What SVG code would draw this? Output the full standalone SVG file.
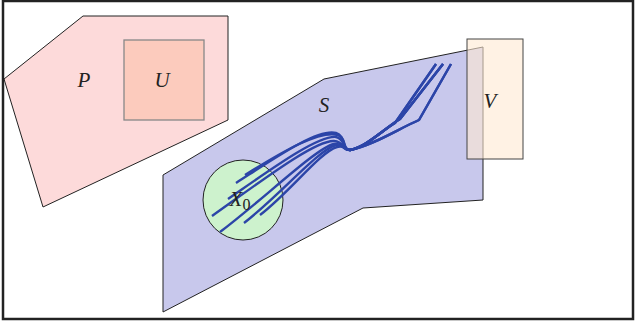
<svg xmlns="http://www.w3.org/2000/svg" width="636" height="322" viewBox="0 0 636 322">
<style>
.lbl{font-family:"Liberation Serif","DejaVu Serif",serif;font-style:italic;font-size:21px;fill:#222;text-anchor:middle}
.sub{font-family:"Liberation Serif","DejaVu Serif",serif;font-style:normal;font-size:16px;fill:#222}
.tr{fill:none;stroke:#2c45a8;stroke-width:2.4;stroke-linejoin:round;stroke-linecap:butt}
</style>
<rect x="0" y="0" width="636" height="322" fill="#fff"/>
<g id="P">
<polygon points="4,79 83,16 228,16 228,120 43,207" fill="#fddada" stroke="#222" stroke-width="1"/>
<text class="lbl" x="84" y="87">P</text>
</g>
<g id="U">
<rect x="124" y="40" width="80" height="80" fill="#fccbbd" stroke="#888" stroke-width="1.3"/>
<text class="lbl" x="162" y="87">U</text>
</g>
<g id="S">
<polygon points="163,175 324,79 483,47 483,200 363,208 163,312" fill="#c8c8ec" stroke="#222" stroke-width="1"/>
<text class="lbl" x="324" y="112">S</text>
</g>
<g id="X0">
<circle cx="243" cy="200" r="40" fill="#cdf2cd" stroke="#222" stroke-width="1"/>
</g>
<g id="connectors">
<path class="tr" d="M236,183 C275,158 318,128 336,133 C346,136 342,150 350,150 C366,147 380,132 395,123 L436,64"/>
<path class="tr" d="M245,175 C285,150 320,130 338,135 C347,138 342,150 350,150 C368,146 385,128 400,119 L443,64"/>
<path class="tr" d="M228,199 C270,170 318,135 336,137 C346,139 342,150 350,150 C372,146 400,128 419,120 L451,64"/>
<path class="tr" d="M212,216 C260,182 315,140 334,141 C345,142 342,150 350,150 C366,147 380,132 395,123 L436,64"/>
<path class="tr" d="M220,232 C265,198 316,148 334,144 C345,143 342,150 350,150 C368,146 385,128 400,119 L443,64"/>
<path class="tr" d="M244,223 C280,195 318,150 336,145 C346,144 342,150 350,150 C372,146 400,128 419,120 L451,64"/>
<path class="tr" d="M260,215 C290,192 320,152 337,147 C346,145 342,150 350,150 C368,146 385,128 400,119 L443,64"/>
</g>
<text class="lbl" x="240" y="206">X<tspan class="sub" dy="4">0</tspan></text>
<g id="V">
<rect x="467" y="39" width="56" height="120" fill="#ffe9d2" fill-opacity="0.6" stroke="#444" stroke-width="1"/>
<text class="lbl" x="490" y="108">V</text>
</g>
<rect x="3" y="1" width="630" height="318" fill="none" stroke="#222" stroke-width="2.5"/>
</svg>
